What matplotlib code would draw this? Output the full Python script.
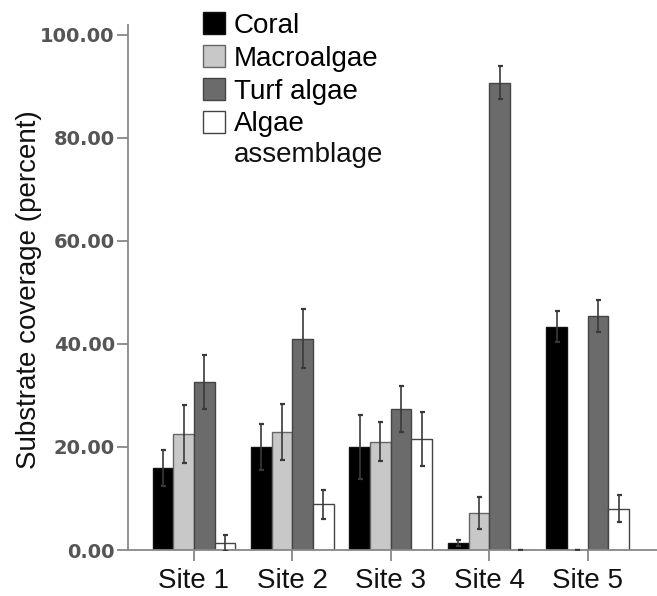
import numpy as np
import matplotlib
matplotlib.use("Agg")
import matplotlib.pyplot as plt

sites = ['Site 1', 'Site 2', 'Site 3', 'Site 4', 'Site 5']
groups = ['Coral', 'Macroalgae', 'Turf algae', 'Algae assemblage']

coral = [15.9, 20.0, 20.0, 1.4, 43.3]
coral_err = [3.5, 4.5, 6.2, 0.6, 3.0]
macro = [22.5, 22.9, 21.0, 7.2, 0.0]
macro_err = [5.7, 5.5, 3.8, 3.1, 0.0]
turf = [32.6, 41.0, 27.4, 90.7, 45.4]
turf_err = [5.2, 5.7, 4.5, 3.2, 3.1]
algae = [1.4, 8.9, 21.6, 0.0, 8.0]
algae_err = [1.5, 2.8, 5.2, 0.0, 2.6]

values = [coral, macro, turf, algae]
errors = [coral_err, macro_err, turf_err, algae_err]
colors = ['#000000', '#c8c8c8', '#6b6b6b', '#ffffff']
edges = ['#111111', '#666666', '#444444', '#444444']

fig = plt.figure(figsize=(6.57, 5.96), dpi=100)
ax = fig.add_axes([128/657, 1-550/596, 1-128/657, 525/596])

x = np.arange(len(sites))
w = 0.21
for i in range(4):
    pos = x + (i - 1.5) * w
    # legend shows only the first word of a two-line label, second line added below
    ax.bar(pos, values[i], width=w, color=colors[i], edgecolor=edges[i],
           linewidth=1.0, label=groups[i].split(' ')[0] if i == 3 else groups[i], zorder=2)
    ax.errorbar(pos, values[i], yerr=errors[i], fmt='none', ecolor='#3a3a3a',
                elinewidth=1.2, capsize=1.8, capthick=1.6, zorder=3)

ax.set_xlim(-0.67, 4.705)
ax.set_ylim(0, 101.9)
ax.set_yticks([0, 20, 40, 60, 80, 100])
ax.set_yticklabels(['%.2f' % v for v in [0, 20, 40, 60, 80, 100]],
                   fontsize=14, fontweight='bold', color='#555555',
                   family='DejaVu Sans')
ax.set_xticks(x)
ax.set_xticklabels(sites, fontsize=20, family='Liberation Sans', color='#111111')
ax.tick_params(axis='y', length=8, width=1.3, color='#888888', pad=1.5)
ax.tick_params(axis='x', length=8, width=1.3, color='#888888', pad=5)

for s in ['top', 'right']:
    ax.spines[s].set_visible(False)
for s in ['left', 'bottom']:
    ax.spines[s].set_color('#888888')
    ax.spines[s].set_linewidth(1.3)

ax.set_ylabel('Substrate coverage (percent)', fontsize=20,
              family='Liberation Sans', color='#111111')
ax.yaxis.set_label_coords(-0.163, 0.495)

leg = ax.legend(loc='upper left', bbox_to_anchor=(203/657, 1-12/596),
                bbox_transform=fig.transFigure, frameon=False,
                prop={'family': 'Liberation Sans', 'size': 20},
                handlelength=0.79, handleheight=0.86, handletextpad=0.32,
                labelspacing=0.22, borderpad=0, borderaxespad=0)

fig.canvas.draw()
r = fig.canvas.get_renderer()
bb = leg.get_texts()[3].get_window_extent(r)
fig.text(bb.x0 / fig.bbox.width, (bb.y0 - 31) / fig.bbox.height,
         groups[3].split(' ')[1], fontsize=20, family='Liberation Sans',
         color='#111111', ha='left', va='bottom')

fig.savefig('out.png', dpi=100)
